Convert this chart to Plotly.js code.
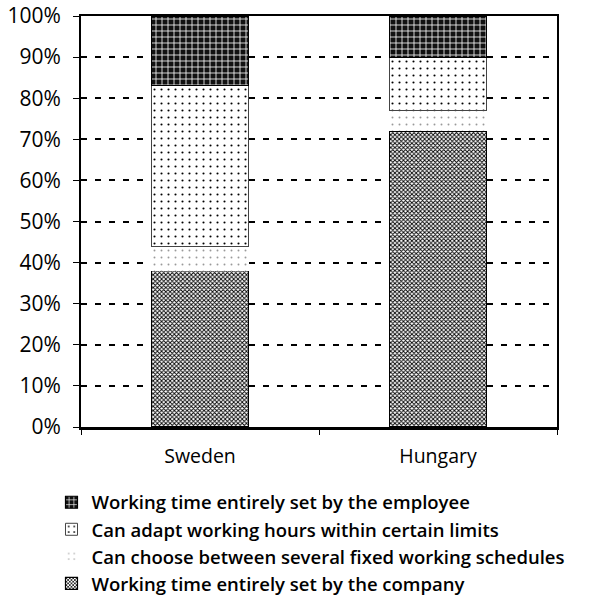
<!DOCTYPE html>
<html>
<head>
<meta charset="utf-8">
<script src="https://cdn.plot.ly/plotly-3.0.1.min.js"></script>
<style>
html,body{margin:0;padding:0;background:#fff;}
#chart{width:592px;height:612px;}
</style>
</head>
<body>
<div id="chart"></div>
<script>
var countries = ["Sweden", "Hungary"];
var seriesNames = [
  "Working time entirely set by the company",
  "Can choose between several fixed working schedules",
  "Can adapt working hours within certain limits",
  "Working time entirely set by the employee"
];
var companySet = [38, 72];
var fixedSchedules = [6, 5];
var adaptHours = [39, 13];
var employeeSet = [17, 10];
var yTickVals = [0, 10, 20, 30, 40, 50, 60, 70, 80, 90, 100];
var yTickText = ["0%", "10%", "20%", "30%", "40%", "50%", "60%", "70%", "80%", "90%", "100%"];

var FONT = "Open Sans, Noto Sans, sans-serif";
var values = [companySet, fixedSchedules, adaptHours, employeeSet];
var styles = [
  {pattern: {shape: "x", fgcolor: "#000", bgcolor: "#fff", size: 3, solidity: 0.5}, line: {color: "#000", width: 1.2}},
  {pattern: {shape: ".", fgcolor: "#999", bgcolor: "#fff", size: 7, solidity: 0.06}, line: {color: "#fff", width: 0}},
  {pattern: {shape: ".", fgcolor: "#000", bgcolor: "#fff", size: 7, solidity: 0.07}, line: {color: "#444", width: 1}},
  {pattern: {shape: "+", fgcolor: "#fff", bgcolor: "#111", size: 6, solidity: 0.25}, line: {color: "#000", width: 1.2}}
];
var traces = values.map(function (v, i) {
  return {
    type: "bar",
    x: countries,
    y: v,
    name: seriesNames[i],
    legendgroup: "g" + i,
    marker: {color: styles[i].pattern.bgcolor, pattern: styles[i].pattern, line: styles[i].line},
    hoverinfo: "skip"
  };
});

var layout = {
  width: 592,
  height: 612,
  margin: {l: 81, r: 35, t: 16, b: 185, autoexpand: false},
  paper_bgcolor: "#fff",
  plot_bgcolor: "#fff",
  barmode: "stack",
  bargap: 0.59,
  font: {family: FONT, size: 20, color: "#000"},
  showlegend: true,
  legend: {
    orientation: "v",
    traceorder: "reversed",
    x: -0.062, xanchor: "left",
    y: -0.138, yanchor: "top",
    font: {family: FONT, size: 18.5, color: "#000", weight: 600},
    tracegroupgap: 0,
    itemwidth: 30,
    bgcolor: "rgba(0,0,0,0)"
  },
  xaxis: {
    type: "category",
    showline: true, linecolor: "#000", linewidth: 2.5,
    mirror: true,
    ticks: "outside", tickson: "boundaries", ticklen: 5, tickcolor: "#000",
    ticklabelstandoff: 10,
    tickfont: {family: FONT, size: 19.5, color: "#000"},
    showgrid: false,
    zeroline: false
  },
  yaxis: {
    range: [0, 100],
    tickvals: yTickVals,
    ticktext: yTickText,
    ticks: "outside", ticklen: 6, tickcolor: "#000",
    ticklabelstandoff: 8,
    showline: true, linecolor: "#000", linewidth: 2,
    mirror: true,
    showgrid: true, gridcolor: "#000", gridwidth: 2, griddash: "6px,8px",
    zeroline: false,
    tickfont: {family: FONT, size: 21, color: "#000"}
  }
};

Plotly.newPlot("chart", traces, layout, {displayModeBar: false, staticPlot: true});
</script>
</body>
</html>
